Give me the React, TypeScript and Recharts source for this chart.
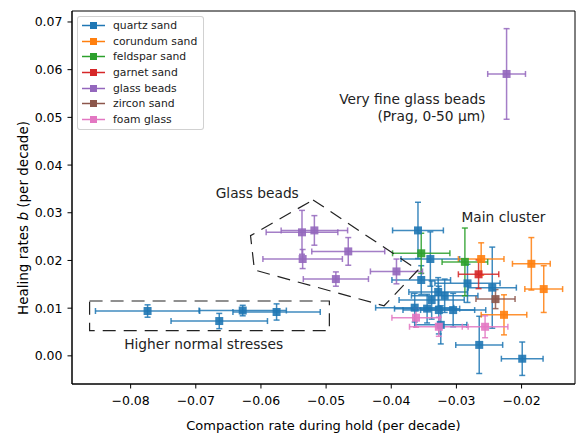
import React from 'react';
import {
  ComposedChart,
  Scatter,
  XAxis,
  YAxis,
  ZAxis,
  ErrorBar,
  ReferenceArea,
  ReferenceDot,
} from 'recharts';

const seriesNames = [
  'quartz sand',
  'corundum sand',
  'feldspar sand',
  'garnet sand',
  'glass beads',
  'zircon sand',
  'foam glass',
];
const seriesColors = ['#1f77b4', '#ff7f0e', '#2ca02c', '#d62728', '#9467bd', '#8c564b', '#e377c2'];

// compaction rate (x), healing rate (y) and their errors, per material
const quartzX = [-0.0774, -0.0628, -0.0576, -0.0664, -0.0359, -0.034, -0.0354, -0.0283, -0.0245, -0.0265, -0.0199, -0.0338, -0.0328, -0.0318, -0.0364, -0.0345, -0.0327, -0.0324, -0.0305];
const quartzY = [0.0094, 0.0095, 0.0092, 0.0073, 0.0263, 0.0203, 0.0159, 0.0152, 0.0143, 0.0023, -0.0006, 0.0117, 0.0134, 0.0126, 0.0101, 0.0099, 0.0096, 0.0065, 0.0096];
const quartzXErr = [0.008, 0.0067, 0.0067, 0.0074, 0.0039, 0.0045, 0.0045, 0.005, 0.0037, 0.0036, 0.0032, 0.005, 0.0045, 0.0051, 0.006, 0.005, 0.0055, 0.004, 0.005];
const quartzYErr = [0.0013, 0.0011, 0.0017, 0.0016, 0.0059, 0.0057, 0.003, 0.004, 0.0085, 0.006, 0.0035, 0.004, 0.003, 0.0035, 0.003, 0.003, 0.005, 0.004, 0.0035];

const corundumX = [-0.0262, -0.0185, -0.0166, -0.0227];
const corundumY = [0.0203, 0.0193, 0.014, 0.0086];
const corundumXErr = [0.0035, 0.0029, 0.0029, 0.0035];
const corundumYErr = [0.0034, 0.0055, 0.0049, 0.0042];

const feldsparX = [-0.0354, -0.0287];
const feldsparY = [0.0215, 0.0197];
const feldsparXErr = [0.0044, 0.0035];
const feldsparYErr = [0.0042, 0.0071];

const garnetX = [-0.0266];
const garnetY = [0.0171];
const garnetXErr = [0.0031];
const garnetYErr = [0.003];

const glassX = [-0.0537, -0.0518, -0.0536, -0.0466, -0.0485, -0.0392, -0.0223];
const glassY = [0.0259, 0.0263, 0.0203, 0.0219, 0.0161, 0.0177, 0.0591];
const glassXErr = [0.0055, 0.0051, 0.0061, 0.0056, 0.005, 0.004, 0.0029];
const glassYErr = [0.0046, 0.0031, 0.002, 0.0029, 0.0015, 0.0026, 0.0095];

const zirconX = [-0.024];
const zirconY = [0.0119];
const zirconXErr = [0.003];
const zirconYErr = [0.002];

const foamX = [-0.0362, -0.0327, -0.0256];
const foamY = [0.008, 0.0061, 0.0061];
const foamXErr = [0.0037, 0.0045, 0.0035];
const foamYErr = [0.002, 0.002, 0.0023];

const xTicks = [-0.08, -0.07, -0.06, -0.05, -0.04, -0.03, -0.02];
const yTicks = [0, 0.01, 0.02, 0.03, 0.04, 0.05, 0.06, 0.07];
const xDomain = [-0.089, -0.0118];
const yDomain = [-0.0059, 0.0723];

// dashed outline around the glass-bead group
const glassOutlineX = [-0.052, -0.0359, -0.0411, -0.061, -0.0616, -0.052];
const glassOutlineY = [0.0327, 0.018, 0.0105, 0.018, 0.0252, 0.0327];

const notes = [
  { x: -0.02554, y: 0.05377, text: 'Very fine glass beads', anchor: 'end' },
  { x: -0.02554, y: 0.05031, text: '(Prag, 0-50 μm)', anchor: 'end' },
  { x: -0.02278, y: 0.02914, text: 'Main cluster', anchor: 'middle' },
  { x: -0.06057, y: 0.03411, text: 'Glass beads', anchor: 'middle' },
  { x: -0.06879, y: 0.00245, text: 'Higher normal stresses', anchor: 'middle' },
];

const build = (xs: number[], ys: number[], exs: number[], eys: number[]) =>
  xs.map((x, i) => ({ x, y: ys[i], ex: exs[i], ey: eys[i] }));

const series = [
  build(quartzX, quartzY, quartzXErr, quartzYErr),
  build(corundumX, corundumY, corundumXErr, corundumYErr),
  build(feldsparX, feldsparY, feldsparXErr, feldsparYErr),
  build(garnetX, garnetY, garnetXErr, garnetYErr),
  build(glassX, glassY, glassXErr, glassYErr),
  build(zirconX, zirconY, zirconXErr, zirconYErr),
  build(foamX, foamY, foamXErr, foamYErr),
];

const outline = glassOutlineX.map((x, i) => ({ x, y: glassOutlineY[i] }));

const FONT = '"DejaVu Sans", sans-serif';

const fmtX = (v: number) => (v < 0 ? '\u2212' + Math.abs(v).toFixed(2) : v.toFixed(2));

const Legend7 = () => (
  <div
    style={{
      position: 'absolute',
      left: 77,
      top: 16,
      width: 125,
      padding: '1px 0 2px 0',
      border: '1px solid rgba(204,204,204,0.9)',
      borderRadius: 3,
      background: 'rgba(255,255,255,0.8)',
      fontFamily: FONT,
      fontSize: 10.8,
      color: '#222',
    }}
  >
    {seriesNames.map((name, i) => (
      <div key={name} style={{ height: 15.6, display: 'flex', alignItems: 'center' }}>
        <svg width={35} height={15} style={{ flex: 'none' }}>
          <line x1={4} x2={27} y1={7.5} y2={7.5} stroke={seriesColors[i]} strokeWidth={1.5} />
          <rect x={12} y={4} width={7} height={7} fill={seriesColors[i]} />
        </svg>
        <span style={{ whiteSpace: 'nowrap' }}>{name}</span>
      </div>
    ))}
  </div>
);

export default function App() {
  return (
    <div style={{ position: 'absolute', left: 0, top: 0, width: 576, height: 435, background: '#fff' }}>
      <ComposedChart width={576} height={435} margin={{ top: 11, right: 1, bottom: 21, left: 12 }}>
        <XAxis
          type="number"
          dataKey="x"
          domain={xDomain}
          allowDataOverflow
          ticks={xTicks}
          tickFormatter={fmtX}
          height={30}
          tickSize={4.5}
          tickMargin={8}
          stroke="#000"
          tick={{ fill: '#000', fontSize: 12.5, fontFamily: FONT }}
          label={{
            value: 'Compaction rate during hold (per decade)',
            position: 'insideBottom',
            offset: -16,
            fill: '#000',
            fontSize: 13,
            fontFamily: FONT,
          }}
        />
        <YAxis
          type="number"
          dataKey="y"
          domain={yDomain}
          allowDataOverflow
          ticks={yTicks}
          tickFormatter={(v: number) => v.toFixed(2)}
          width={60}
          tickSize={4.5}
          tickMargin={5}
          stroke="#000"
          tick={{ fill: '#000', fontSize: 12.5, fontFamily: FONT }}
          label={{
            content: () => {
              const cx = 23;
              const cy = 218;
              return (
                <text
                  x={cx}
                  y={cy}
                  transform={`rotate(-90 ${cx} ${cy})`}
                  textAnchor="middle"
                  dominantBaseline="central"
                  fill="#000"
                  fontSize={13.5}
                  fontFamily={FONT}
                >
                  Healing rates <tspan fontStyle="italic">b</tspan> (per decade)
                </text>
              );
            },
          }}
        />
        <ZAxis range={[70, 70]} />
        <ReferenceArea
          x1={xDomain[0]}
          x2={xDomain[1]}
          y1={yDomain[0]}
          y2={yDomain[1]}
          fill="none"
          stroke="#000"
          strokeWidth={1}
          ifOverflow="visible"
        />
        <ReferenceArea
          x1={-0.0863}
          x2={-0.0495}
          y1={0.0053}
          y2={0.0115}
          fill="none"
          stroke="#222"
          strokeWidth={1.2}
          strokeDasharray="13 8"
        />
        <Scatter
          data={outline}
          line={{ stroke: '#222', strokeWidth: 1.2, strokeDasharray: '13 8' }}
          shape={() => <g />}
          isAnimationActive={false}
        />
        {series.map((data, i) => (
          <Scatter
            key={seriesNames[i]}
            name={seriesNames[i]}
            data={data}
            fill={seriesColors[i]}
            fillOpacity={0.9}
            shape="square"
            isAnimationActive={false}
          >
            <ErrorBar dataKey="ex" direction="x" width={3} stroke={seriesColors[i]} strokeWidth={1.5} strokeOpacity={0.85} />
            <ErrorBar dataKey="ey" direction="y" width={3} stroke={seriesColors[i]} strokeWidth={1.5} strokeOpacity={0.85} />
          </Scatter>
        ))}
        {notes.map((n) => (
          <ReferenceDot
            key={n.text}
            x={n.x}
            y={n.y}
            r={0}
            fill="none"
            stroke="none"
            label={{
              content: (props: any) => (
                <text
                  x={props.viewBox.x}
                  y={props.viewBox.y}
                  textAnchor={n.anchor}
                  dy="0.35em"
                  fill="#222"
                  fontSize={13.75}
                  fontFamily={FONT}
                >
                  {n.text}
                </text>
              ),
            }}
          />
        ))}
      </ComposedChart>
      <Legend7 />
    </div>
  );
}
